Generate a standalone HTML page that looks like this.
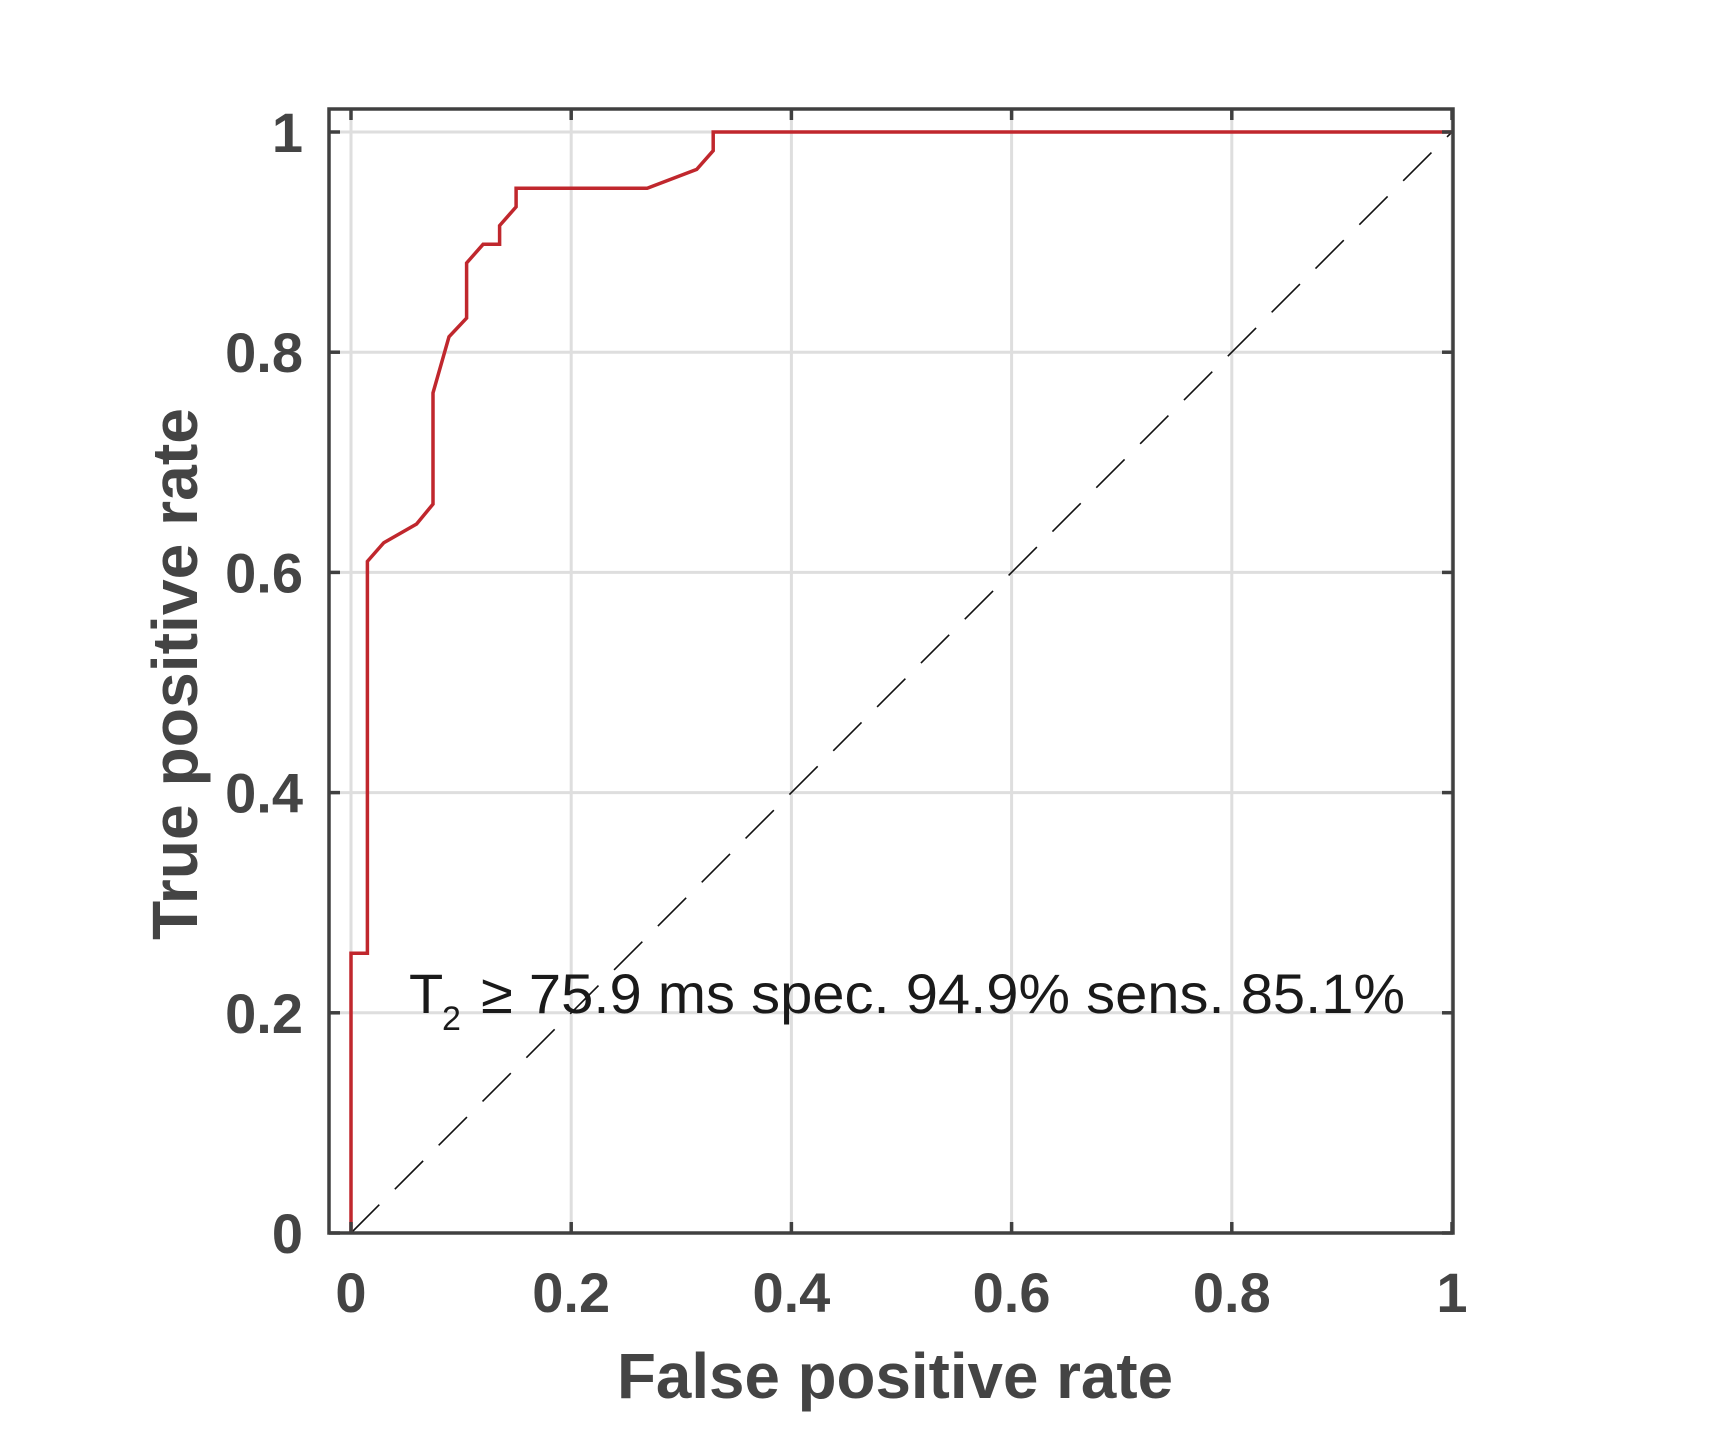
<!DOCTYPE html>
<html><head><meta charset="utf-8"><style>
html,body{margin:0;padding:0;background:#fff;}
svg{display:block;}
text{font-family:"Liberation Sans",Arial,sans-serif;}
</style></head><body>
<svg id="chart" width="1720" height="1429" viewBox="0 0 1720 1429" xmlns="http://www.w3.org/2000/svg">
<rect width="1720" height="1429" fill="#fff"/>
<g id="grid"></g>
<line id="diag" stroke="#111" stroke-width="1.6" stroke-dasharray="40 22"/>
<path id="roc" fill="none" stroke="#c0272d" stroke-width="3.5" stroke-linejoin="miter"/>
<rect id="box" fill="none" stroke="#404040" stroke-width="3.5"/>
<g id="ticks"></g>
<g fill="#1a1a1a">
<text x="409" y="1013" font-size="56">T</text>
<text x="442" y="1030" font-size="34">2</text>
<text x="481" y="1013" font-size="56" textLength="924" lengthAdjust="spacingAndGlyphs">≥ 75.9 ms spec. 94.9% sens. 85.1%</text>
</g>
<text x="895" y="1398" font-size="64" font-weight="bold" fill="#444" text-anchor="middle" textLength="556" lengthAdjust="spacingAndGlyphs">False positive rate</text>
<text transform="translate(197,674) rotate(-90)" font-size="64" font-weight="bold" fill="#444" text-anchor="middle" textLength="532" lengthAdjust="spacingAndGlyphs">True positive rate</text>
</svg>
<script>
const fprValues=[0,0,0.0149,0.0149,0.0298,0.0596,0.0745,0.0745,0.089,0.105,0.105,0.12,0.135,0.135,0.15,0.15,0.269,0.314,0.329,0.329,1];
const tprValues=[0,0.254,0.254,0.61,0.627,0.644,0.662,0.763,0.814,0.831,0.881,0.898,0.898,0.915,0.932,0.949,0.949,0.966,0.983,1,1];
const xTickLabels=["0","0.2","0.4","0.6","0.8","1"];
const yTickLabels=["0","0.2","0.4","0.6","0.8","1"];
const tickValues=[0,0.2,0.4,0.6,0.8,1];
const NS="http://www.w3.org/2000/svg";
const X0=351,XS=1101,Y0=1233,YS=1101;
const L=329,R=1453,T=109,B=1233;
function sx(v){return X0+v*XS;}
function sy(v){return Y0-v*YS;}
function mk(tag,attrs,parent){const e=document.createElementNS(NS,tag);for(const k in attrs)e.setAttribute(k,attrs[k]);parent.appendChild(e);return e;}
const grid=document.getElementById('grid'),ticks=document.getElementById('ticks'),svg=document.getElementById('chart');
tickValues.forEach((v,i)=>{
 const gx=mk('line',{x1:sx(v),x2:sx(v),y1:T,y2:B,stroke:'#dedede','stroke-width':3},grid);
 
 
 const gy=mk('line',{x1:L,x2:R,y1:sy(v),y2:sy(v),stroke:'#dedede','stroke-width':3},grid);
 
 
 [[sx(v),B,sx(v),B-11],[sx(v),T,sx(v),T+11]].forEach(c=>{const t=mk('line',{x1:c[0],y1:c[1],x2:c[2],y2:c[3],stroke:'#404040','stroke-width':3.5},ticks);
  
  });
 [[L,sy(v),L+11,sy(v)],[R,sy(v),R-11,sy(v)]].forEach(c=>{const t=mk('line',{x1:c[0],y1:c[1],x2:c[2],y2:c[3],stroke:'#404040','stroke-width':3.5},ticks);
  
  });
 const xl=mk('text',{x:sx(v),y:1312,'font-size':56,'font-weight':'bold',fill:'#444','text-anchor':'middle'},svg);
 xl.textContent=xTickLabels[i];
 
 
 const yl=mk('text',{x:303,y:sy(v)+20,'font-size':56,'font-weight':'bold',fill:'#444','text-anchor':'end'},svg);
 yl.textContent=yTickLabels[i];
 
 
});
const box=document.getElementById('box');
box.setAttribute('x',L);box.setAttribute('y',T);box.setAttribute('width',R-L);box.setAttribute('height',B-T);
const d=document.getElementById('diag');
d.setAttribute('x1',sx(0));d.setAttribute('y1',sy(0));d.setAttribute('x2',sx(1));d.setAttribute('y2',sy(1));
document.getElementById('roc').setAttribute('d',fprValues.map((v,i)=>(i?'L':'M')+sx(v).toFixed(1)+' '+sy(tprValues[i]).toFixed(1)).join(' '));
</script>
</body></html>
